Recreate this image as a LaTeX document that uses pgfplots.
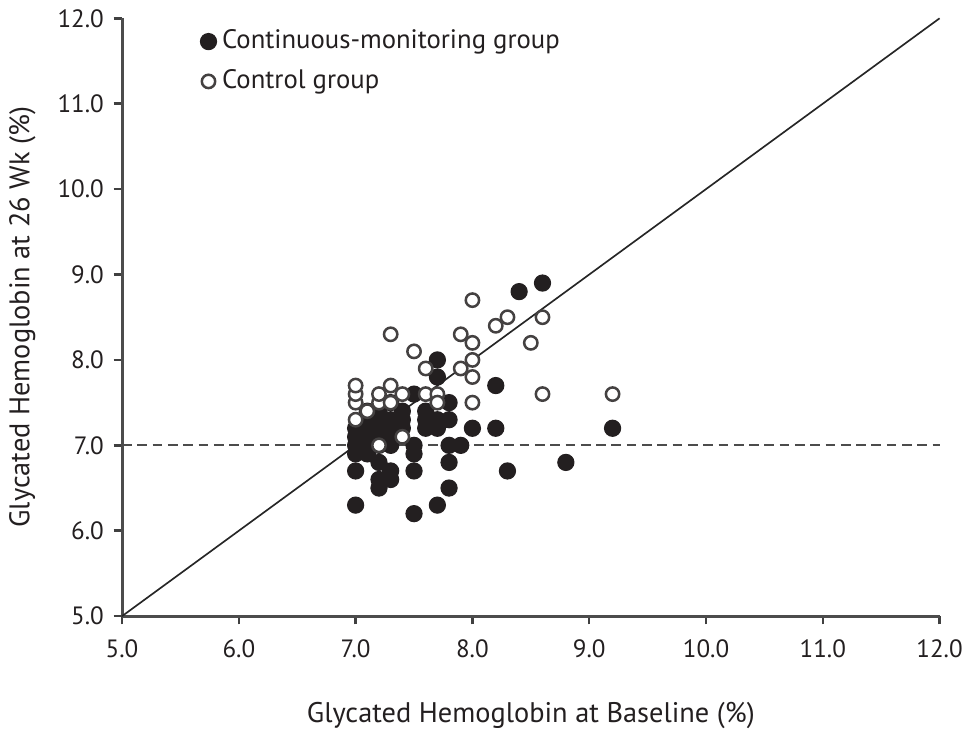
\documentclass[border=0pt]{standalone}
\usepackage{pgfplots}
\pgfplotsset{compat=1.18}
\usepackage{fontspec}
\setmainfont{PT Sans}
\definecolor{ink}{HTML}{231F20}
\begin{document}
\begin{tikzpicture}[font=\fontsize{9}{11}\selectfont, color=ink]
\begin{axis}[
    scale only axis,
    width=294pt, height=215pt,
    xmin=5, xmax=12, ymin=5, ymax=12,
    xtick={5,6,...,12}, ytick={5,6,...,12},
    axis x line*=bottom, axis y line*=left,
    axis line style={line width=1.1pt, black!70},
    tick align=outside,
    major tick length=3pt,
    tick style={line width=0.9pt, black!75},
    /pgf/number format/assume math mode=true,
    /pgf/number format/.cd, fixed, fixed zerofill, precision=1, /pgfplots/.cd,
    xticklabel style={yshift=-2pt},
    xlabel={Glycated Hemoglobin at Baseline (\%)},
    ylabel={Glycated Hemoglobin at 26 Wk (\%)},
    label style={font=\fontsize{10.2}{12}\selectfont},
    xlabel style={yshift=-9pt},
    ylabel style={yshift=1pt},
    clip=false,
    legend style={at={(0.085,1.0)}, anchor=north west, draw=none, fill=none,
        font=\fontsize{9.6}{11}\selectfont, row sep=2pt,
        legend cell align=left},
]
\addplot[black!85, line width=0.6pt, forget plot] coordinates {(5,5)(12,12)};
\addplot[black!70, line width=0.7pt, dash pattern=on 3.5pt off 2pt, forget plot] coordinates {(5,7)(12,7)};

\addplot[only marks, mark=*, mark size=2.9pt, mark options={fill=ink, draw=ink}]
    coordinates {
    (7.0,6.3)(7.0,6.7)(7.0,6.9)(7.0,7.0)(7.0,7.1)(7.0,7.2)
    (7.1,6.9)(7.1,7.0)(7.1,7.1)(7.1,7.2)(7.1,7.3)(7.1,7.4)
    (7.2,6.5)(7.2,6.6)(7.2,6.8)(7.2,7.0)(7.2,7.1)(7.2,7.2)(7.2,7.3)(7.2,7.4)
    (7.3,6.6)(7.3,6.7)(7.3,7.0)(7.3,7.1)(7.3,7.2)(7.3,7.3)(7.3,7.5)
    (7.4,7.2)(7.4,7.3)(7.4,7.4)
    (7.5,6.2)(7.5,6.7)(7.5,6.9)(7.5,7.0)(7.5,7.6)
    (7.6,7.2)(7.6,7.3)(7.6,7.4)
    (7.7,6.3)(7.7,7.2)(7.7,7.3)(7.7,7.8)(7.7,8.0)
    (7.8,6.5)(7.8,6.8)(7.8,7.0)(7.8,7.3)(7.8,7.5)
    (7.9,7.0)(8.0,7.2)(8.2,7.2)(8.2,7.7)(8.3,6.7)
    (8.4,8.8)(8.6,8.9)(8.8,6.8)(9.2,7.2)
    };
\addplot[only marks, mark=*, mark size=2.4pt, mark options={fill=white, draw=ink!85, line width=0.9pt}]
    coordinates {
    (7.0,7.3)(7.0,7.5)(7.0,7.6)(7.0,7.7)(7.1,7.4)(7.2,7.5)(7.2,7.6)
    (7.3,7.7)(7.3,8.3)(7.3,7.5)(7.4,7.6)(7.5,8.1)(7.6,7.9)(7.6,7.6)
    (7.7,7.6)(7.7,7.5)(7.9,7.9)(7.9,8.3)(8.0,8.0)(8.0,8.2)(8.0,8.7)
    (8.0,7.8)(8.0,7.5)(8.2,8.4)(8.3,8.5)(8.5,8.2)(8.6,8.5)(8.6,7.6)
    (9.2,7.6)(7.4,7.1)(7.2,7.0)
    };
\legend{Continuous-monitoring group, Control group}
\end{axis}
\end{tikzpicture}
\end{document}
